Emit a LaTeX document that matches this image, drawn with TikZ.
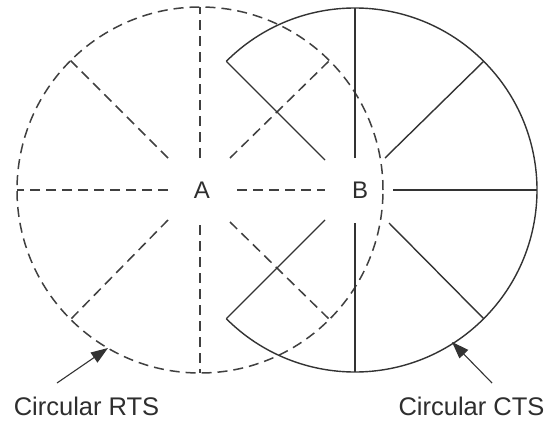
\documentclass[tikz,border=0pt]{standalone}
\usepackage{fontspec}
\setmainfont{Liberation Sans}
\usetikzlibrary{arrows.meta,calc}
\begin{document}
\begin{tikzpicture}[x=1pt,y=1pt,
  dashline/.style={draw=black!75,line width=1.5pt,dash pattern=on 10pt off 6pt},
  solidline/.style={draw=black!80,line width=1.4pt},
  lbl/.style={text=black!82,font=\fontsize{24}{28}\selectfont,inner sep=0pt},
  biglbl/.style={text=black!82,font=\fontsize{25.5}{30}\selectfont,inner sep=0pt},
  callout/.style={draw=black!80,line width=1.1pt,-{Triangle[length=17pt,width=12pt]}}]
\useasboundingbox (0,0) rectangle (546,424);
\fill[white] (0,0) rectangle (546,424);
\coordinate (cA) at (200,234);
\coordinate (cB) at (355,234);
% dashed circle RTS around A
\draw[dashline] (cA) circle[radius=183];
\draw[dashline] ($(cA)+(0,32)$) -- ($(cA)+(0,183)$);
\draw[dashline] ($(cA)+(0,-35)$) -- ($(cA)+(0,-183)$);
\draw[dashline] ($(cA)+(-32,0)$) -- ($(cA)+(-183,0)$);
\draw[dashline] ($(cA)+(37,0)$) -- ($(cA)+(125,0)$);
\draw[dashline] ($(cA)+(-32,32)$) -- ($(cA)+(135:183)$);
\draw[dashline] ($(cA)+(30,32)$) -- ($(cA)+(45:183)$);
\draw[dashline] ($(cA)+(-32,-30)$) -- ($(cA)+(225:183)$);
\draw[dashline] ($(cA)+(30,-32)$) -- ($(cA)+(-45:183)$);
% solid circle CTS around B
\draw[solidline] ($(cB)+(135:182)$) arc[start angle=135,end angle=-135,radius=182];
\draw[solidline] ($(cB)+(135:182)$) -- ($(cB)+(-30,30)$);
\draw[solidline] ($(cB)+(225:182)$) -- ($(cB)+(-30,-30)$);
\draw[solidline] ($(cB)+(0,32)$) -- ($(cB)+(0,182)$);
\draw[solidline] ($(cB)+(0,-33)$) -- ($(cB)+(0,-182)$);
\draw[solidline] ($(cB)+(38,0)$) -- ($(cB)+(182,0)$);
\draw[solidline] ($(cB)+(30,32)$) -- ($(cB)+(45:182)$);
\draw[solidline] ($(cB)+(34,-33)$) -- ($(cB)+(-45:182)$);
% labels
\node[lbl] (A) at (202,234) {A};
\node[lbl] (B) at (360,234) {B};
\node[biglbl] (rts) at (86.5,18) {Circular RTS};
\node[biglbl] (cts) at (471.5,18) {Circular CTS};
\coordinate (rtsTail) at (57,41);
\coordinate (rtsTip) at (108,76);
\coordinate (ctsTail) at (492,41);
\coordinate (ctsTip) at (452,82);
\draw[callout] (rtsTail) -- (rtsTip);
\draw[callout] (ctsTail) -- (ctsTip);
\end{tikzpicture}
\end{document}
